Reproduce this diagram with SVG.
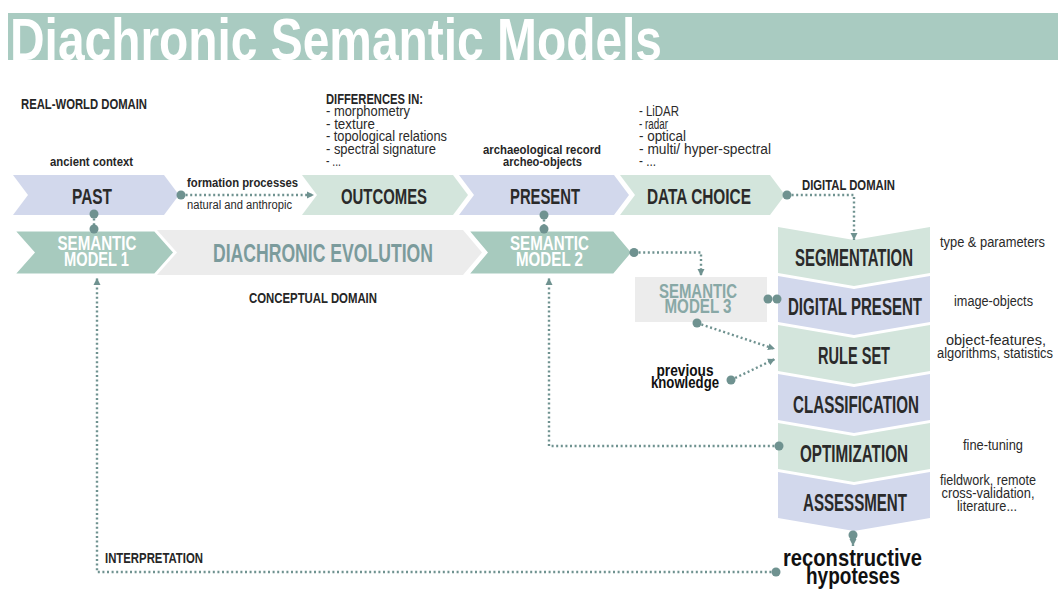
<svg xmlns="http://www.w3.org/2000/svg" width="1058" height="590" viewBox="0 0 1058 590">
<defs>
<style>
text { font-family: "Liberation Sans", Arial, sans-serif; fill: #262626; }
.b { font-weight: bold; }
.nl { font-weight: bold; font-size: 22px; fill: #2a2a2a; text-anchor: middle; }
.rl { font-weight: bold; font-size: 23px; fill: #2a2a2a; text-anchor: middle; }
.sm { font-weight: bold; font-size: 19.5px; fill: #ffffff; text-anchor: middle; }
.sm3 { font-weight: bold; font-size: 19.5px; fill: #88a8a6; text-anchor: middle; }
.lab { font-weight: bold; font-size: 15px; }
.sml { font-weight: bold; font-size: 12.5px; }
.reg { font-size: 14.5px; fill: #2a2a2a; }
.mid { text-anchor: middle; }
.green { fill: #d3e5dc; }
.lav { fill: #d2d8ec; }
.smg { fill: #a7cabe; stroke: #ffffff; stroke-width: 3; }
.conn { fill: none; stroke: #6f9290; stroke-width: 2.4; stroke-dasharray: 2 2.6; }
.dot { fill: #6f9290; }
</style>
<marker id="ah" markerUnits="userSpaceOnUse" markerWidth="9" markerHeight="9" refX="7" refY="4" orient="auto">
<path d="M0,0.5 L7,4 L0,7.5 z" fill="#6f9290"/>
</marker>
</defs>
<rect width="1058" height="590" fill="#ffffff"/>

<g id="title">
<rect x="8" y="13" width="1050" height="47" fill="#a9cbc1"/>
<text transform="scale(0.8,1)" x="12.5" y="60" class="b" font-size="60" style="fill:#ffffff" textLength="815" lengthAdjust="spacingAndGlyphs">Diachronic Semantic Models</text>
</g>

<g id="node-past">
<path class="lav" d="M13,175 H164 L179,195 L164,215 H13 L28,195 Z"/>
<text class="nl" transform="scale(0.7,1)" x="131.43" y="204" textLength="57.14" lengthAdjust="spacingAndGlyphs">PAST</text>
</g>
<g id="node-outcomes">
<path class="green" d="M302,175 H453 L468,195 L453,215 H302 L317,195 Z"/>
<text class="nl" transform="scale(0.7,1)" x="548.57" y="204" textLength="122.86" lengthAdjust="spacingAndGlyphs">OUTCOMES</text>
</g>
<g id="node-present">
<path class="lav" d="M459,175 H614 L629,195 L614,215 H459 L474,195 Z"/>
<text class="nl" transform="scale(0.7,1)" x="778.57" y="204" textLength="100" lengthAdjust="spacingAndGlyphs">PRESENT</text>
</g>
<g id="node-datachoice">
<path class="green" d="M620,175 H770 L785,195 L770,215 H620 L635,195 Z"/>
<text class="nl" transform="scale(0.7,1)" x="998.57" y="204" textLength="148.57" lengthAdjust="spacingAndGlyphs">DATA CHOICE</text>
</g>

<g id="node-diachronic">
<path fill="#ececec" d="M150,230 H463 L482,252.5 L463,275 H150 Z"/>
<text class="b mid" transform="scale(0.7,1)" x="461.43" y="262" font-size="26" style="fill:#7b9b9c" textLength="314.29" lengthAdjust="spacingAndGlyphs">DIACHRONIC EVOLUTION</text>
</g>
<g id="node-sm1">
<path class="smg" d="M13,230 H155 L175,252.5 L155,275 H13 L33,252.5 Z"/>
<text class="sm" transform="scale(0.7,1)"><tspan x="138.57" y="250" textLength="112.86" lengthAdjust="spacingAndGlyphs">SEMANTIC</tspan><tspan x="137.86" y="266" textLength="92.86" lengthAdjust="spacingAndGlyphs">MODEL 1</tspan></text>
</g>
<g id="node-sm2">
<path class="smg" d="M467,230 H614 L633,252.5 L614,275 H467 L486,252.5 Z"/>
<text class="sm" transform="scale(0.7,1)"><tspan x="785" y="250" textLength="112.86" lengthAdjust="spacingAndGlyphs">SEMANTIC</tspan><tspan x="785" y="266" textLength="95.71" lengthAdjust="spacingAndGlyphs">MODEL 2</tspan></text>
</g>
<g id="node-sm3">
<rect x="635" y="277" width="132" height="45" fill="#ececec"/>
<text class="sm3" transform="scale(0.7,1)"><tspan x="997.14" y="298" textLength="111.43" lengthAdjust="spacingAndGlyphs">SEMANTIC</tspan><tspan x="997.14" y="313" textLength="95.71" lengthAdjust="spacingAndGlyphs">MODEL 3</tspan></text>
</g>

<g id="node-segmentation">
<path class="green" d="M778,227 L854,240 L930,227 V273 L854,286 L778,273 Z"/>
<text class="rl" transform="scale(0.7,1)" x="1220" y="266" textLength="168.57" lengthAdjust="spacingAndGlyphs">SEGMENTATION</text>
</g>
<g id="node-digitalpresent">
<path class="lav" d="M778,276 L854,289 L930,276 V322 L854,335 L778,322 Z"/>
<text class="rl" transform="scale(0.7,1)" x="1221.43" y="315" textLength="191.43" lengthAdjust="spacingAndGlyphs">DIGITAL PRESENT</text>
</g>
<g id="node-ruleset">
<path class="green" d="M778,325 L854,338 L930,325 V371 L854,384 L778,371 Z"/>
<text class="rl" transform="scale(0.7,1)" x="1220" y="364" textLength="102.86" lengthAdjust="spacingAndGlyphs">RULE SET</text>
</g>
<g id="node-classification">
<path class="lav" d="M778,374 L854,387 L930,374 V420 L854,433 L778,420 Z"/>
<text class="rl" transform="scale(0.7,1)" x="1222.86" y="413" textLength="180" lengthAdjust="spacingAndGlyphs">CLASSIFICATION</text>
</g>
<g id="node-optimization">
<path class="green" d="M778,423 L854,436 L930,423 V469 L854,482 L778,469 Z"/>
<text class="rl" transform="scale(0.7,1)" x="1220" y="462" textLength="154.29" lengthAdjust="spacingAndGlyphs">OPTIMIZATION</text>
</g>
<g id="node-assessment">
<path class="lav" d="M778,472 L854,485 L930,472 V518 L854,531 L778,518 Z"/>
<text class="rl" transform="scale(0.7,1)" x="1221.43" y="511" textLength="148.57" lengthAdjust="spacingAndGlyphs">ASSESSMENT</text>
</g>

<g id="node-previous">
<text class="b mid" transform="scale(0.85,1)" font-size="16" style="fill:#111"><tspan x="805.88" y="376" textLength="67.06" lengthAdjust="spacingAndGlyphs">previous</tspan><tspan x="805.88" y="388" textLength="80" lengthAdjust="spacingAndGlyphs">knowledge</tspan></text>
</g>
<g id="node-reconstructive">
<text class="b mid" transform="scale(0.85,1)" font-size="23" style="fill:#111"><tspan x="1002.94" y="566" textLength="163.53" lengthAdjust="spacingAndGlyphs">reconstructive</tspan><tspan x="1003.53" y="584" textLength="110.59" lengthAdjust="spacingAndGlyphs">hypoteses</tspan></text>
</g>

<g id="labels">
<text class="lab" transform="scale(0.7,1)" x="30" y="109" textLength="180" lengthAdjust="spacingAndGlyphs">REAL-WORLD DOMAIN</text>
<text class="lab" transform="scale(0.7,1)" x="465.71" y="104" textLength="138.57" lengthAdjust="spacingAndGlyphs">DIFFERENCES IN:</text>
<text class="reg" transform="scale(0.85,1)"><tspan x="383.53" y="116" textLength="98.82" lengthAdjust="spacingAndGlyphs">- morphometry</tspan><tspan x="383.53" y="129" textLength="57.65" lengthAdjust="spacingAndGlyphs">- texture</tspan><tspan x="383.53" y="141.5" textLength="142.35" lengthAdjust="spacingAndGlyphs">- topological relations</tspan><tspan x="383.53" y="154" textLength="129.41" lengthAdjust="spacingAndGlyphs">- spectral signature</tspan><tspan x="383.53" y="166.5" textLength="17.65" lengthAdjust="spacingAndGlyphs">- ...</tspan></text>
<text class="reg" transform="scale(0.85,1)"><tspan x="751.76" y="116" textLength="47.06" lengthAdjust="spacingAndGlyphs">- LiDAR</tspan><tspan x="751.76" y="129" textLength="34.12" lengthAdjust="spacingAndGlyphs">- radar</tspan><tspan x="751.76" y="141.5" textLength="55.29" lengthAdjust="spacingAndGlyphs">- optical</tspan><tspan x="751.76" y="154" textLength="155.29" lengthAdjust="spacingAndGlyphs">- multi/ hyper-spectral</tspan><tspan x="751.76" y="166.5" textLength="20" lengthAdjust="spacingAndGlyphs">- ...</tspan></text>
<text class="sml mid" transform="scale(0.85,1)" x="107.65" y="166" textLength="97.65" lengthAdjust="spacingAndGlyphs">ancient context</text>
<text class="b" transform="scale(0.85,1)" x="220" y="187" font-size="13" textLength="130.59" lengthAdjust="spacingAndGlyphs">formation processes</text>
<text transform="scale(0.85,1)" x="220" y="209" font-size="13.5" style="fill:#2a2a2a" textLength="123.53" lengthAdjust="spacingAndGlyphs">natural and anthropic</text>
<text class="sml mid" transform="scale(0.85,1)"><tspan x="637.65" y="154" textLength="138.82" lengthAdjust="spacingAndGlyphs">archaeological record</tspan><tspan x="638.24" y="166" textLength="92.94" lengthAdjust="spacingAndGlyphs">archeo-objects</tspan></text>
<text class="b" transform="scale(0.7,1)" x="1145.71" y="190" font-size="14.5" textLength="132.86" lengthAdjust="spacingAndGlyphs">DIGITAL DOMAIN</text>
<text class="reg" transform="scale(0.85,1)" x="1105.88" y="247" textLength="123.53" lengthAdjust="spacingAndGlyphs">type &amp; parameters</text>
<text class="reg" transform="scale(0.85,1)" x="1122.35" y="306" textLength="92.94" lengthAdjust="spacingAndGlyphs">image-objects</text>
<text class="reg mid" transform="scale(0.85,1)"><tspan x="1171.76" y="345" textLength="117.65" lengthAdjust="spacingAndGlyphs">object-features,</tspan><tspan x="1170.59" y="358" textLength="136.47" lengthAdjust="spacingAndGlyphs">algorithms, statistics</tspan></text>
<text class="reg" transform="scale(0.85,1)" x="1132.94" y="450" textLength="70.59" lengthAdjust="spacingAndGlyphs">fine-tuning</text>
<text class="reg mid" transform="scale(0.85,1)"><tspan x="1162.35" y="485" textLength="112.94" lengthAdjust="spacingAndGlyphs">fieldwork, remote</tspan><tspan x="1162.35" y="498" textLength="109.41" lengthAdjust="spacingAndGlyphs">cross-validation,</tspan><tspan x="1161.18" y="511" textLength="70.59" lengthAdjust="spacingAndGlyphs">literature...</tspan></text>
<text class="lab" transform="scale(0.7,1)" x="355.71" y="303" textLength="182.86" lengthAdjust="spacingAndGlyphs">CONCEPTUAL DOMAIN</text>
<text class="b" transform="scale(0.7,1)" x="150" y="563" font-size="14" textLength="140" lengthAdjust="spacingAndGlyphs">INTERPRETATION</text>
</g>

<g id="connectors">
<path class="conn" d="M181,195 H314" marker-end="url(#ah)"/>
<circle class="dot" cx="181" cy="195" r="4.5"/>
<path class="conn" d="M94,214 V229"/>
<circle class="dot" cx="94" cy="214" r="4.5"/>
<circle class="dot" cx="94" cy="229" r="4.5"/>
<path class="conn" d="M544,215 V229"/>
<circle class="dot" cx="544" cy="215" r="4.5"/>
<circle class="dot" cx="544" cy="229" r="4.5"/>
<path class="conn" d="M634,252.5 H701 V276" marker-end="url(#ah)"/>
<circle class="dot" cx="634" cy="252.5" r="4.5"/>
<path class="conn" d="M787,195 H854 V240" marker-end="url(#ah)"/>
<circle class="dot" cx="787" cy="195" r="4.5"/>
<circle class="dot" cx="768" cy="299" r="4.5"/>
<circle class="dot" cx="777" cy="299" r="4.5"/>
<path class="conn" d="M697,323 L775,349" marker-end="url(#ah)"/>
<circle class="dot" cx="697" cy="323" r="4.5"/>
<path class="conn" d="M731,380 L775,359" marker-end="url(#ah)"/>
<circle class="dot" cx="731" cy="380" r="4.5"/>
<path class="conn" d="M779,446 H549 V278" marker-end="url(#ah)"/>
<circle class="dot" cx="779" cy="446" r="4.5"/>
<path class="conn" d="M853,535 V546" marker-end="url(#ah)"/>
<circle class="dot" cx="853" cy="535" r="4.5"/>
<path class="conn" d="M776,572 H97 V278" marker-end="url(#ah)"/>
<circle class="dot" cx="776" cy="572" r="4.5"/>
</g>
</svg>
